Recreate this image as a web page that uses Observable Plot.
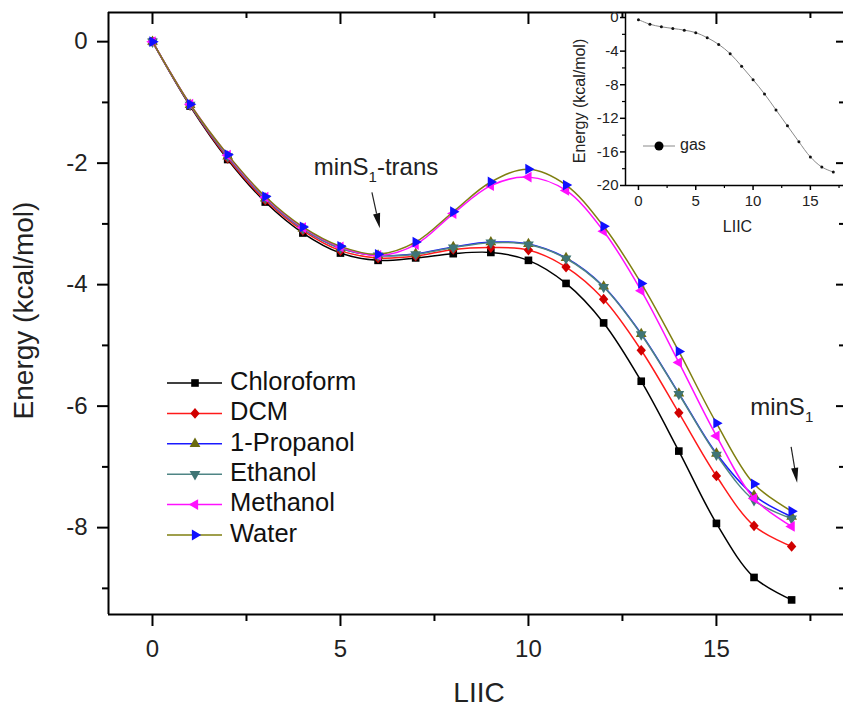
<!DOCTYPE html>
<html><head><meta charset="utf-8">
<script src="https://cdn.jsdelivr.net/npm/d3@7"></script>
<script src="https://cdn.jsdelivr.net/npm/@observablehq/plot@0.6"></script>
<style>
html,body{margin:0;padding:0;background:#fff;overflow:hidden}
#wrap{position:relative;width:843px;height:707px;font-family:"Liberation Sans",Arial,sans-serif}
#inset{position:absolute;left:540px;top:0}
</style></head><body><div id="wrap"><div id="main"></div><div id="inset"></div></div>
<script>
// ---------- data ----------
const liic = [0,1,2,3,4,5,6,7,8,9,10,11,12,13,14,15,16,17];
const chloroform = [0,-1.06,-1.94,-2.64,-3.15,-3.48,-3.6,-3.56,-3.49,-3.47,-3.6,-3.98,-4.63,-5.59,-6.74,-7.93,-8.82,-9.19];
const dcm        = [0,-1.05,-1.92,-2.61,-3.11,-3.44,-3.56,-3.53,-3.42,-3.39,-3.43,-3.71,-4.24,-5.08,-6.11,-7.15,-7.97,-8.31];
const propanol   = [0,-1.04,-1.89,-2.58,-3.08,-3.4,-3.52,-3.49,-3.38,-3.3,-3.33,-3.56,-4.03,-4.81,-5.79,-6.78,-7.47,-7.82];
const ethanol    = [0,-1.04,-1.89,-2.58,-3.08,-3.4,-3.52,-3.5,-3.39,-3.31,-3.34,-3.57,-4.04,-4.82,-5.8,-6.8,-7.55,-7.85];
const methanol   = [0,-1.03,-1.87,-2.56,-3.06,-3.38,-3.52,-3.34,-2.83,-2.37,-2.23,-2.45,-3.12,-4.1,-5.28,-6.49,-7.52,-7.98];
const water      = [0,-1.03,-1.86,-2.55,-3.05,-3.37,-3.5,-3.3,-2.8,-2.31,-2.1,-2.36,-3.04,-3.98,-5.1,-6.28,-7.28,-7.73];
const seriesNames = ["Chloroform","DCM","1-Propanol","Ethanol","Methanol","Water"];
const gas = [-0.25,-0.8,-1.1,-1.3,-1.5,-1.8,-2.4,-3.2,-4.3,-5.8,-7.4,-9.1,-11.0,-12.9,-14.8,-16.6,-17.8,-18.4];

const xMajor = [0,5,10,15];
const xMinor = [2.5,7.5,12.5,17.5];
const yMajor = [0,-2,-4,-6,-8];
const yMinor = [-1,-3,-5,-7,-9];
const xDomain = [-1.17,18.38];
const yDomain = [-9.43,0.48];

const insetXMajor = [0,5,10,15];
const insetXMinor = [2.5,7.5,12.5,17.5];
const insetYMajor = [0,-4,-8,-12,-16,-20];
const insetYMinor = [-2,-6,-10,-14,-18];
const insetXDomain = [-1.13,17.89];
const insetYDomain = [-20,0.6];

// annotations (data coordinates)
const annotations = [
  {main:"minS", sub:"1", suffix:"-trans", x:5.96, y:-2.1, from:[5.85,-2.49], to:[6.06,-3.08]},
  {main:"minS", sub:"1", suffix:"", x:16.75, y:-6.05, from:[17.0,-6.68], to:[17.16,-7.27]}
];

// ---------- symbols ----------
function tri(angleDeg){
  return {draw(ctx,size){
    const s = Math.sqrt(size*4/Math.sqrt(3)), R = s/Math.sqrt(3);
    for(let k=0;k<3;k++){
      const a=(angleDeg+120*k)*Math.PI/180;
      const px=R*Math.cos(a), py=R*Math.sin(a);
      k?ctx.lineTo(px,py):ctx.moveTo(px,py);
    }
    ctx.closePath();
  }};
}
const diamond = {draw(ctx,size){
  const w = Math.sqrt(size/2.3), h = w*1.15;
  ctx.moveTo(0,-h); ctx.lineTo(w,0); ctx.lineTo(0,h); ctx.lineTo(-w,0); ctx.closePath();
}};

const styles = [
  {values:chloroform, line:"#000000", fill:"#000000", symbol:d3.symbolSquare, r:4.3},
  {values:dcm,        line:"#ff1a1a", fill:"#d00000", symbol:diamond, r:4.0},
  {values:propanol,   line:"#1a1aff", fill:"#6b6b10", symbol:tri(-90), r:4.0},
  {values:ethanol,    line:"#4f8585", fill:"#3f7575", symbol:tri(90), r:4.0},
  {values:methanol,   line:"#ff10ff", fill:"#ff10ff", symbol:tri(180), r:4.0},
  {values:water,      line:"#7f7f10", fill:"#1010ff", symbol:tri(0), r:4.0}
];

const W=843, H=707, mT=12, mL=108, mR=0, mB=93;
const fw = W-mL-mR, fh = H-mT-mB;
const font = "'Liberation Sans', Arial, sans-serif";

const seriesMarks = styles.flatMap((s,i) => {
  const pts = liic.map((x,j)=>({x, y:s.values[j], name:seriesNames[i]}));
  return [
    Plot.line(pts, {x:"x", y:"y", stroke:s.line, strokeWidth:1.5, curve:"catmull-rom"}),
    Plot.dot(pts, {x:"x", y:"y", symbol:s.symbol, r:s.r, fill:s.fill, stroke:"none"})
  ];
});

const chart = Plot.plot({
  width:W, height:H, marginTop:mT, marginLeft:mL, marginRight:mR, marginBottom:mB,
  style:{fontFamily:font, background:"transparent", overflow:"visible"},
  x:{domain:xDomain, label:null},
  y:{domain:yDomain, label:null},
  marks:[
    ...seriesMarks,
    Plot.ruleX([xDomain[0]], {stroke:"#000", strokeWidth:2}),
    Plot.ruleY([yDomain[0]], {stroke:"#000", strokeWidth:2}),
    Plot.ruleY([yDomain[1]], {stroke:"#000", strokeWidth:2}),
    Plot.axisX(xMajor, {tickSize:12, tickPadding:13, fontSize:24, strokeWidth:2, tickFormat:d=>String(d), label:null, fill:"#222"}),
    Plot.axisX(xMinor, {tickSize:7, strokeWidth:2, tickFormat:()=>"", label:null}),
    Plot.axisY(yMajor, {tickSize:11, tickPadding:10, fontSize:24, strokeWidth:2, tickFormat:d=>String(d), label:null, fill:"#222"}),
    Plot.axisY(yMinor, {tickSize:6, strokeWidth:2, tickFormat:()=>"", label:null}),
    Plot.tickX(xMajor, {x:d=>d, insetBottom:fh-12, stroke:"#000", strokeWidth:2}),
    Plot.tickX(xMinor, {x:d=>d, insetBottom:fh-6, stroke:"#000", strokeWidth:2}),
    Plot.tickY(yMajor, {y:d=>d, insetLeft:fw-7, stroke:"#000", strokeWidth:2}),
    Plot.tickY(yMinor, {y:d=>d, insetLeft:fw-4, stroke:"#000", strokeWidth:2}),
    Plot.text(["LIIC"], {text:d=>d, frameAnchor:"bottom", lineAnchor:"middle", textAnchor:"middle", dy:79, dx:3, fontSize:28, fill:"#222"}),
    Plot.text(["Energy (kcal/mol)"], {text:d=>d, frameAnchor:"left", textAnchor:"middle", lineAnchor:"middle", rotate:-90, dx:-84, dy:-3, fontSize:28, fill:"#222"})
  ]
});
document.getElementById("main").appendChild(chart);

// annotations & legend
const sx = chart.scale("x"), sy = chart.scale("y");
const svg = d3.select(chart);
annotations.forEach(a => {
  const t = svg.append("text").attr("x", sx.apply(a.x)).attr("y", sy.apply(a.y))
    .attr("text-anchor","middle").attr("dominant-baseline","middle")
    .attr("font-size",24).attr("font-family",font).attr("fill","#222");
  t.append("tspan").text(a.main);
  t.append("tspan").attr("font-size",15).attr("dy",9).text(a.sub);
  if (a.suffix) t.append("tspan").attr("dy",-9).text(a.suffix);
  const x1=sx.apply(a.from[0]), y1=sy.apply(a.from[1]), x2=sx.apply(a.to[0]), y2=sy.apply(a.to[1]);
  const ang = Math.atan2(y2-y1, x2-x1), L=15, hw=3.6;
  const bx = x2 - L*Math.cos(ang), by = y2 - L*Math.sin(ang);
  svg.append("line").attr("x1",x1).attr("y1",y1).attr("x2",bx).attr("y2",by).attr("stroke","#222").attr("stroke-width",1.2);
  const px = -Math.sin(ang)*hw, py = Math.cos(ang)*hw;
  svg.append("path").attr("d",`M${x2},${y2}L${bx+px},${by+py}L${bx-px},${by-py}Z`).attr("fill","#111");
});

const lg = svg.append("g").attr("font-family",font).attr("font-size",25.5).attr("fill","#111");
styles.forEach((s,i) => {
  const y = 383 + 30.4*i;
  lg.append("line").attr("x1",167).attr("x2",222).attr("y1",y).attr("y2",y).attr("stroke",s.line).attr("stroke-width",1.5);
  lg.append("path").attr("transform",`translate(195,${y})`).attr("d", d3.symbol(s.symbol, Math.PI*s.r*s.r)()).attr("fill",s.fill);
  lg.append("text").attr("x",230).attr("y",y).attr("text-anchor","start").attr("dominant-baseline","middle").text(seriesNames[i]);
});

// ---------- inset ----------
const gasPts = liic.map((x,i)=>({x, y:gas[i]}));
const inset = Plot.plot({
  width:303, height:240, marginTop:12, marginLeft:85, marginRight:0, marginBottom:55,
  style:{fontFamily:font, background:"transparent", overflow:"visible"},
  x:{domain:insetXDomain, label:null},
  y:{domain:insetYDomain, label:null},
  marks:[
    Plot.ruleX([insetXDomain[0]], {stroke:"#000", strokeWidth:1.5}),
    Plot.ruleY([insetYDomain[0]], {stroke:"#000", strokeWidth:1.5}),
    Plot.axisX(insetXMajor, {tickSize:5, tickPadding:5, fontSize:15, strokeWidth:1.5, tickFormat:d=>String(d), label:null, fill:"#222"}),
    Plot.axisX(insetXMinor, {tickSize:3, strokeWidth:1.2, tickFormat:()=>"", label:null}),
    Plot.axisY(insetYMajor, {tickSize:5, tickPadding:2, fontSize:15, strokeWidth:1.5, tickFormat:d=>String(d), label:null, fill:"#222"}),
    Plot.axisY(insetYMinor, {tickSize:3, strokeWidth:1.2, tickFormat:()=>"", label:null}),
    Plot.line(gasPts, {x:"x", y:"y", stroke:"#8a8a8a", strokeWidth:1, curve:"catmull-rom"}),
    Plot.dot(gasPts, {x:"x", y:"y", r:1.5, fill:"#111", stroke:"none"}),
    Plot.text(["LIIC"], {text:d=>d, frameAnchor:"bottom", lineAnchor:"middle", textAnchor:"middle", dy:41, dx:3, fontSize:16, fill:"#222"}),
    Plot.text(["Energy (kcal/mol)"], {text:d=>d, frameAnchor:"left", textAnchor:"middle", lineAnchor:"middle", rotate:-90, dx:-46, dy:2, fontSize:16, fill:"#222"})
  ]
});
document.getElementById("inset").appendChild(inset);
const isv = d3.select(inset);
isv.append("line").attr("x1",103).attr("x2",135).attr("y1",146).attr("y2",146).attr("stroke","#8a8a8a").attr("stroke-width",1);
isv.append("circle").attr("cx",119).attr("cy",146).attr("r",4.5).attr("fill","#000");
isv.append("text").attr("x",140).attr("y",146).attr("text-anchor","start").attr("dominant-baseline","middle").attr("font-size",16).attr("font-family",font).attr("fill","#222").text("gas");
</script></body></html>
